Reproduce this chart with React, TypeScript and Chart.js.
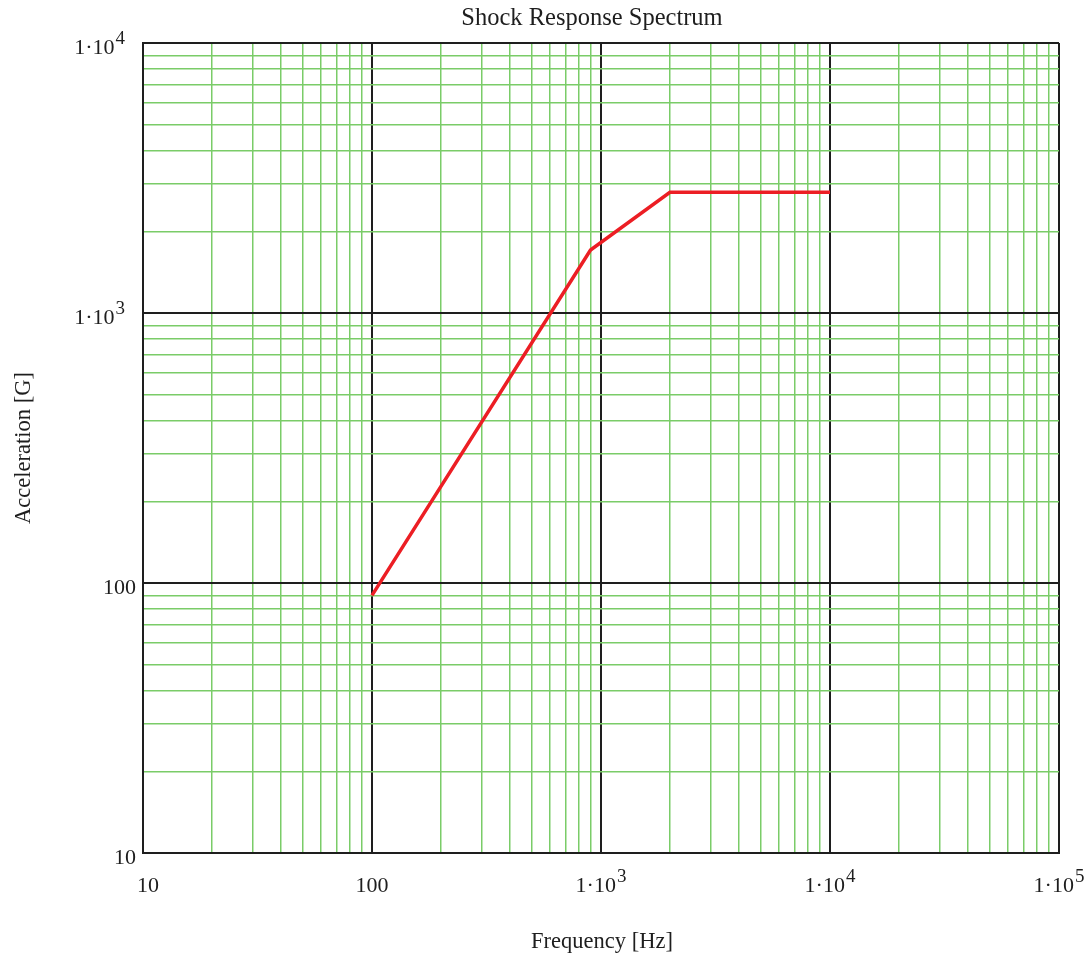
import React, { useEffect, useRef } from "react";
import { Chart, registerables } from "chart.js";

Chart.register(...registerables);

const freqHz = [100, 900, 2000, 10000];
const accelG = [90, 1710, 2800, 2800];

const xTickValues = [10, 100, 1000, 10000, 100000];
const xTickLabels: [string, string][] = [["10", ""], ["100", ""], ["1·10", "3"], ["1·10", "4"], ["1·10", "5"]];
const yTickValues = [10, 100, 1000, 10000];
const yTickLabels: [string, string][] = [["10", ""], ["100", ""], ["1·10", "3"], ["1·10", "4"]];

const titleText = "Shock Response Spectrum";
const xAxisTitle = "Frequency [Hz]";
const yAxisTitle = "Acceleration [G]";

const FONT = '"Liberation Serif", "DejaVu Serif", serif';
const GREEN = "rgb(122,204,104)";
const DARK = "#1e1e1e";

function allLogTicks(min: number, max: number) {
  const out: { value: number }[] = [];
  for (let p = Math.log10(min); p < Math.log10(max); p++) {
    for (let m = 1; m < 10; m++) out.push({ value: m * Math.pow(10, p) });
  }
  out.push({ value: max });
  return out;
}

function isMajor(v: number) {
  const l = Math.log10(v);
  return Math.abs(l - Math.round(l)) < 1e-9;
}

const labelPlugin = {
  id: "labels",
  afterDraw(chart: any) {
    const ctx = chart.ctx;
    const a = chart.chartArea;
    const xs = chart.scales.x;
    const ys = chart.scales.y;
    ctx.save();
    ctx.fillStyle = DARK;
    ctx.textBaseline = "alphabetic";
    const size = 22;
    const supSize = 19;
    const drawLabel = (base: string, sup: string, x: number, y: number, align: "center" | "right") => {
      ctx.font = `${size}px ${FONT}`;
      const wb = ctx.measureText(base).width;
      ctx.font = `${supSize}px ${FONT}`;
      const ws = sup ? ctx.measureText(sup).width + 1 : 0;
      const total = wb + ws;
      const left = align === "center" ? x - total / 2 : x - total;
      ctx.textAlign = "left";
      ctx.font = `${size}px ${FONT}`;
      ctx.fillText(base, left, y);
      if (sup) {
        ctx.font = `${supSize}px ${FONT}`;
        ctx.fillText(sup, left + wb + 1, y - 10);
      }
    };
    xTickValues.forEach((v, i) => {
      const px = xs.getPixelForValue(v);
      const [b, s] = xTickLabels[i];
      drawLabel(b, s, i === 0 ? px + 5 : px, a.bottom + 39, "center");
    });
    yTickValues.forEach((v, i) => {
      const py = ys.getPixelForValue(v);
      const [b, s] = yTickLabels[i];
      drawLabel(b, s, s ? a.left - 18 : a.left - 7, py + 11, "right");
    });
    ctx.textAlign = "center";
    ctx.font = `24.5px ${FONT}`;
    ctx.fillText(titleText, (a.left + a.right) / 2 - 9, 25);
    ctx.font = `22.5px ${FONT}`;
    ctx.fillText(xAxisTitle, (a.left + a.right) / 2 + 1, 948);
    ctx.translate(30, (a.top + a.bottom) / 2);
    ctx.rotate(-Math.PI / 2);
    ctx.fillText(yAxisTitle, 0, 0);
    ctx.restore();
  },
};

export default function App() {
  const ref = useRef<HTMLCanvasElement | null>(null);
  useEffect(() => {
    if (!ref.current) return;
    const gridOpts = {
      color: (c: any) => (c.tick && isMajor(c.tick.value) ? DARK : GREEN),
      lineWidth: (c: any) => (c.tick && isMajor(c.tick.value) ? 2 : 1.5),
      drawTicks: false,
      tickLength: 0,
    };
    const chart = new Chart(ref.current, {
      type: "scatter",
      data: {
        datasets: [
          {
            data: freqHz.map((x, i) => ({ x, y: accelG[i] })),
            showLine: true,
            borderColor: "rgb(236,30,36)",
            borderWidth: 3.5,
            pointRadius: 0,
            fill: false,
          },
        ],
      },
      options: {
        responsive: false,
        animation: false,
        layout: { padding: { left: 143, right: 31, top: 43, bottom: 107 } },
        plugins: { legend: { display: false }, tooltip: { enabled: false }, title: { display: false } },
        scales: {
          x: {
            type: "logarithmic",
            min: 10,
            max: 100000,
            afterBuildTicks: (s: any) => {
              s.ticks = allLogTicks(10, 100000);
            },
            ticks: { display: false },
            grid: gridOpts as any,
            border: { display: true, color: DARK, width: 2 },
          },
          y: {
            type: "logarithmic",
            min: 10,
            max: 10000,
            afterBuildTicks: (s: any) => {
              s.ticks = allLogTicks(10, 10000);
            },
            ticks: { display: false },
            grid: gridOpts as any,
            border: { display: true, color: DARK, width: 2 },
          },
        },
      },
      plugins: [labelPlugin],
    });
    return () => chart.destroy();
  }, []);
  return (
    <div style={{ position: "absolute", left: 0, top: 0, width: 1090, height: 960, background: "#fff" }}>
      <canvas ref={ref} width={1090} height={960} style={{ display: "block" }} />
    </div>
  );
}
